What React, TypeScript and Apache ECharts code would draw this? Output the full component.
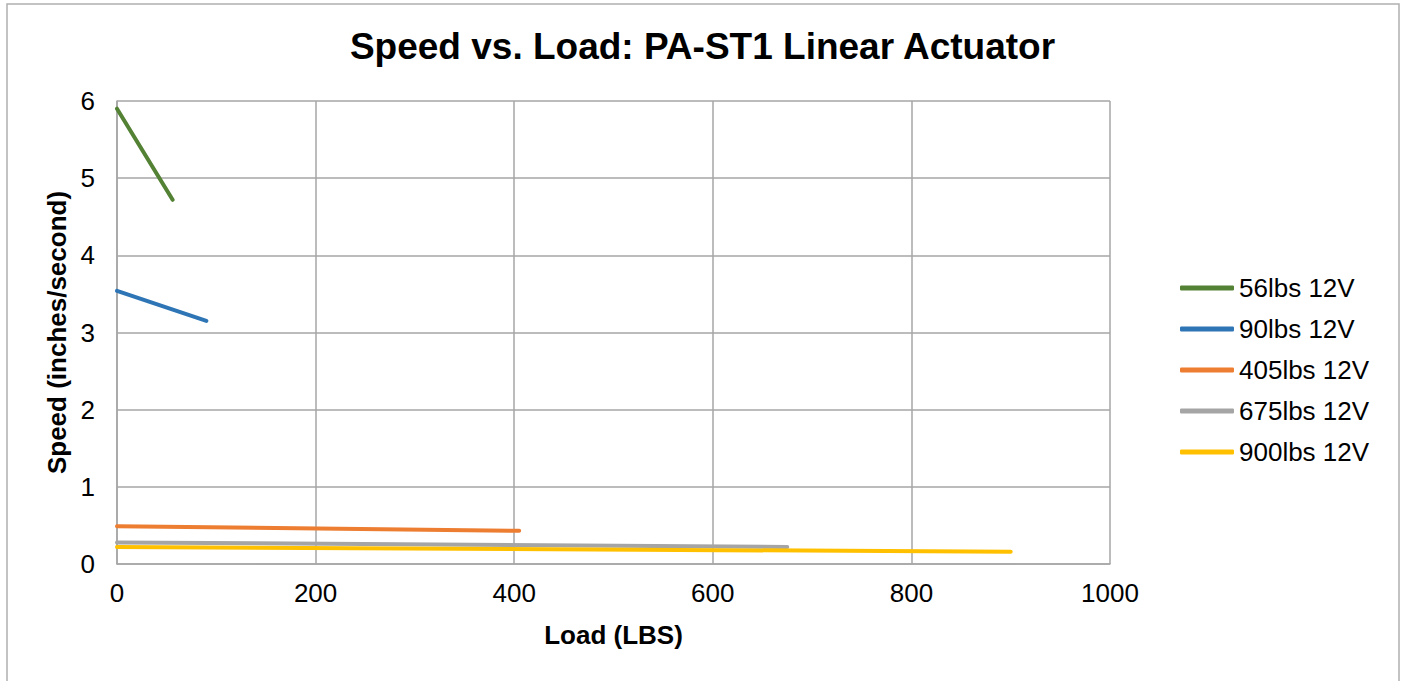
import React, { useEffect, useRef } from "react";
import * as echarts from "echarts";

const seriesNames = ["56lbs 12V", "90lbs 12V", "405lbs 12V", "675lbs 12V", "900lbs 12V"];
const loads56 = [0, 56];
const speeds56 = [5.9, 4.72];
const loads90 = [0, 90];
const speeds90 = [3.54, 3.15];
const loads405 = [0, 405];
const speeds405 = [0.49, 0.43];
const loads675 = [0, 675];
const speeds675 = [0.28, 0.22];
const loads900 = [0, 900];
const speeds900 = [0.22, 0.16];
const colors = ["#548235", "#2E75B6", "#ED7D31", "#A5A5A5", "#FFC000"];

const allLoads = [loads56, loads90, loads405, loads675, loads900];
const allSpeeds = [speeds56, speeds90, speeds405, speeds675, speeds900];

const FONT = "Liberation Sans, Arial, sans-serif";

export default function App() {
  const ref = useRef<HTMLDivElement>(null);
  useEffect(() => {
    if (!ref.current) return;
    const chart = echarts.init(ref.current, undefined, { renderer: "svg" });
    chart.setOption({
      animation: false,
      backgroundColor: "#ffffff",
      textStyle: { fontFamily: FONT },
      graphic: [
        {
          type: "rect",
          shape: { x: 7, y: 4, width: 1392, height: 700 },
          style: { fill: "none", stroke: "#b0b0b0", lineWidth: 1.5 },
          silent: true,
          z: -1,
        },
      ],
      title: {
        text: "Speed vs. Load: PA-ST1 Linear Actuator",
        left: "center",
        top: 28,
        padding: 0,
        textStyle: { fontFamily: FONT, fontSize: 37, fontWeight: "bold", color: "#000" },
      },
      legend: {
        orient: "vertical",
        left: 1175,
        top: 270,
        itemWidth: 54,
        itemHeight: 5,
        itemGap: 15,
        icon: "roundRect",
        textStyle: { fontFamily: FONT, fontSize: 26, color: "#000", lineHeight: 26 },
        data: seriesNames,
      },
      grid: { left: 117, right: 295, top: 101, bottom: 117 },
      xAxis: {
        type: "value",
        min: 0,
        max: 1000,
        interval: 200,
        name: "Load (LBS)",
        nameLocation: "middle",
        nameGap: 58,
        nameTextStyle: { fontFamily: FONT, fontSize: 26, fontWeight: "bold", color: "#000" },
        axisLine: { show: true, lineStyle: { color: "#a6a6a6", width: 1.5 } },
        axisTick: { show: false },
        axisLabel: { fontFamily: FONT, fontSize: 26, color: "#000", margin: 16, formatter: (v: number) => String(v) },
        splitLine: { show: true, lineStyle: { color: "#a6a6a6", width: 1.5 } },
      },
      yAxis: {
        type: "value",
        min: 0,
        max: 6,
        interval: 1,
        name: "Speed (inches/second)",
        nameLocation: "middle",
        nameGap: 47,
        nameRotate: 90,
        nameTextStyle: { fontFamily: FONT, fontSize: 26, fontWeight: "bold", color: "#000" },
        axisLine: { show: true, lineStyle: { color: "#a6a6a6", width: 1.5 } },
        axisTick: { show: false },
        axisLabel: { fontFamily: FONT, fontSize: 26, color: "#000", margin: 22 },
        splitLine: { show: true, lineStyle: { color: "#a6a6a6", width: 1.5 } },
      },
      series: seriesNames.map((name, i) => ({
        name,
        type: "line",
        symbol: "none",
        color: colors[i],
        itemStyle: { color: colors[i] },
        lineStyle: { color: colors[i], width: 4, cap: "round" },
        data: allLoads[i].map((x, j) => [x, allSpeeds[i][j]]),
      })),
    });
    return () => chart.dispose();
  }, []);
  return (
    <div
      ref={ref}
      style={{ position: "absolute", left: 0, top: 0, width: 1405, height: 681 }}
    />
  );
}
